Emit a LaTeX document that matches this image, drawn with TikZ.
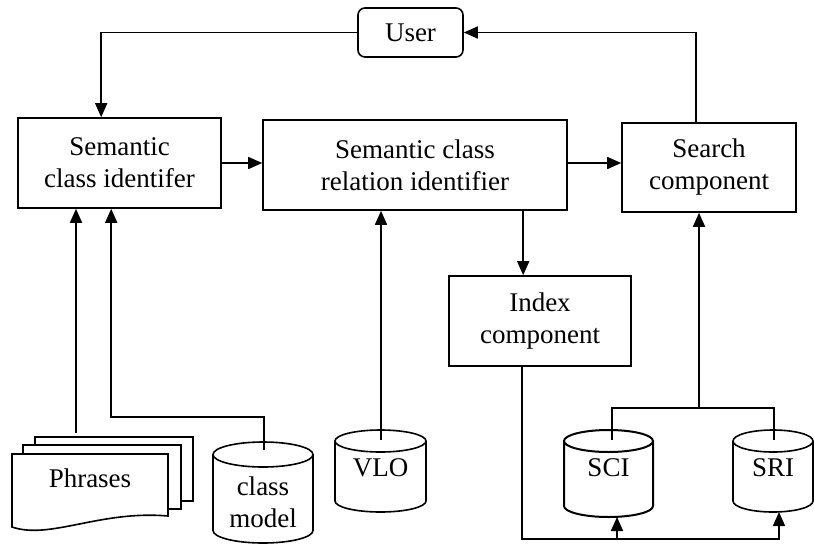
\documentclass[tikz,border=0pt]{standalone}
\usepackage{fontspec}
\setmainfont{Liberation Serif}
\usetikzlibrary{arrows.meta,calc}
\newcommand{\dbcyl}[6][]{%
  \fill[white] (#2-#5,#3+#6) -- (#2-#5,#4-#6)
    arc[start angle=180,end angle=0,x radius=#5,y radius=#6]
    -- (#2+#5,#3+#6)
    arc[start angle=0,end angle=-180,x radius=#5,y radius=#6] -- cycle;
  \draw[#1] (#2-#5,#3+#6) -- (#2-#5,#4-#6)
    arc[start angle=180,end angle=0,x radius=#5,y radius=#6]
    -- (#2+#5,#3+#6)
    arc[start angle=0,end angle=-180,x radius=#5,y radius=#6]
    arc[start angle=180,end angle=0,x radius=#5,y radius=#6];
}
\begin{document}
\begin{tikzpicture}[x=1pt,y=-1pt,line width=1.6pt,
  txt/.style={font=\fontsize{27}{32}\selectfont},
  box/.style={draw,fill=white,inner sep=0pt,align=center,txt},
  lbl/.style={inner sep=0pt,align=center,txt},
  arr/.style={-{Triangle[length=14pt,width=12pt]}}]
\useasboundingbox[fill=white] (0,0) rectangle (814,544);

% boxes
\node[box,rounded corners=7pt,minimum width=105pt,minimum height=49pt] (user) at (410.5,32.5) {User};
\node[box,minimum width=203pt,minimum height=90pt] (sem) at (119.5,163) {Semantic\\class identifer};
\node[box,minimum width=304pt,minimum height=90pt] (rel) at (415,165) {Semantic class\\relation identifier};
\node[box,minimum width=174pt,minimum height=89pt] (search) at (709,167.5) {Search\\component};
\node[box,minimum width=182pt,minimum height=90pt] (index) at (540,321) {Index\\component};

% phrases (multiple documents)
\draw[fill=white] (35,437) rectangle (193,501);
\draw[fill=white] (23,445) rectangle (181,509);
\draw[fill=white] (12,454) -- (168,454) -- (168,516)
  .. controls (100,510) and (50,540) .. (12,527) -- cycle;
\node[lbl] (phrases) at (90,478) {Phrases};

% cylinders
\dbcyl{263}{442}{543}{50}{12.5}
\node[lbl] (classmodel) at (263,502) {class\\model};
\dbcyl{380.5}{430}{512}{45.5}{11}
\node[lbl] (vlo) at (380.5,468) {VLO};
\dbcyl[line width=2pt]{608.5}{430}{517}{44.5}{11}
\node[lbl] (sci) at (608.5,468) {SCI};
\dbcyl{773}{430}{512}{40}{11}
\node[lbl] (sri) at (773,468) {SRI};

% connector coordinates
\coordinate (semin) at ($(sem.north west)+(84,0)$);
\coordinate (searchout) at ($(search.north west)+(75,0)$);
\coordinate (relout) at ($(rel.south west)+(261,0)$);
\coordinate (phtop) at (76,433);
\coordinate (semin2) at ($(sem.south west)+(94,0)$);
\coordinate (cmtop) at (264,450);
\coordinate (vlotop) at (381,440);
\coordinate (scitop) at (612,440);
\coordinate (sritop) at (774,440);
\coordinate (junc) at (699,408);
\coordinate (idxout) at ($(index.south west)+(74,0)$);
\coordinate (scibot) at (617,517);
\coordinate (sribot) at (779,512);
\coordinate (bus) at (779,539);

% connectors
\draw[arr] (user.west) -| (semin);
\draw[arr] (searchout) |- (user.east);
\draw[arr] (sem.east) -- (sem.east -| rel.west);
\draw[arr] ($(rel.east)+(0,-2)$) -- ($(rel.east -| search.west)+(0,-2)$);
\draw[arr] (relout) -- (relout |- index.north);
\draw[arr] (vlotop) -- (vlotop |- rel.south);
\draw[arr] (phtop) -- (phtop |- sem.south);
\draw[arr] (cmtop) -- ++(0,-33) -| (semin2);
\draw (scitop) |- (junc) -| (sritop);
\draw[arr] (junc) -- (junc |- search.south);
\draw[arr] (idxout) |- (bus) -- (sribot);
\draw[arr] (scibot |- bus) -- (scibot);
\end{tikzpicture}
\end{document}
